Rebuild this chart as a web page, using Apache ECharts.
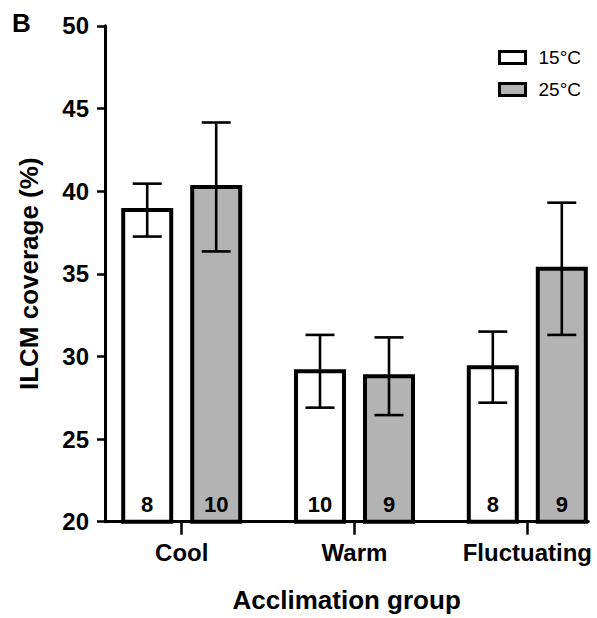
<!DOCTYPE html>
<html><head><meta charset="utf-8">
<script src="https://cdn.jsdelivr.net/npm/echarts@6/dist/echarts.min.js"></script>
<style>html,body{margin:0;padding:0;background:#fff}#c{width:597px;height:618px}</style>
</head><body><div id="c"></div>
<script>
const categories = ['Cool', 'Warm', 'Fluctuating'];
const seriesNames = ['15°C', '25°C'];
const mean15 = [38.85, 29.1, 29.35];
const err15 = [1.6, 2.2, 2.15];
const n15 = [8, 10, 8];
const mean25 = [40.25, 28.8, 35.3];
const err25 = [3.9, 2.35, 4.0];
const n25 = [10, 9, 9];
const yTicks = [20, 25, 30, 35, 40, 45, 50];

const FONT = "'Liberation Sans', Arial, Helvetica, sans-serif";
const fills = ['#ffffff', '#b3b3b3'];
const offsets = [-34.5, 34.5];

function makeRender(s) {
  return function (params, api) {
    const cat = api.value(0), m = api.value(1), e = api.value(2), n = api.value(3);
    const top = api.coord([cat, m]);
    const base = api.coord([cat, yTicks[0]]);
    const hi = api.coord([cat, m + e]);
    const lo = api.coord([cat, m - e]);
    const cx = top[0] + offsets[s];
    const w = 48;
    return {
      type: 'group',
      children: [
        { type: 'rect', shape: { x: cx - w / 2, y: top[1], width: w, height: base[1] - top[1] },
          style: { fill: fills[s], stroke: '#000', lineWidth: 4 } },
        { type: 'line', shape: { x1: cx, y1: hi[1], x2: cx, y2: lo[1] }, style: { stroke: '#000', lineWidth: 2.6 } },
        { type: 'line', shape: { x1: cx - 14.5, y1: hi[1], x2: cx + 14.5, y2: hi[1] }, style: { stroke: '#000', lineWidth: 2.6 } },
        { type: 'line', shape: { x1: cx - 14.5, y1: lo[1], x2: cx + 14.5, y2: lo[1] }, style: { stroke: '#000', lineWidth: 2.6 } },
        { type: 'text', style: { text: String(n), x: cx, y: base[1] - 17, align: 'center', verticalAlign: 'middle',
          font: 'bold 22px ' + FONT, fill: '#000' } }
      ]
    };
  };
}

const chart = echarts.init(document.getElementById('c'), null, { renderer: 'svg' });
chart.setOption({
  animation: false,
  backgroundColor: '#fff',
  grid: { left: 105, right: 8.7, top: 25.8, bottom: 96.3, containLabel: false },
  legend: {
    orient: 'vertical', left: 493, top: 43, icon: 'rect',
    itemWidth: 26, itemHeight: 12, itemGap: 13,
    textStyle: { fontFamily: FONT, fontSize: 19, color: '#000', padding: [0, 0, 0, 8] },
    data: [
      { name: seriesNames[0], itemStyle: { color: fills[0], borderColor: '#000', borderWidth: 3 } },
      { name: seriesNames[1], itemStyle: { color: fills[1], borderColor: '#000', borderWidth: 3 } }
    ]
  },
  xAxis: {
    type: 'value', min: -0.4439, max: 2.353,
    name: 'Acclimation group', nameLocation: 'middle', nameGap: 65,
    nameTextStyle: { fontFamily: FONT, fontWeight: 'bold', fontSize: 26, color: '#000' },
    splitLine: { show: false },
    axisLine: { show: true, onZero: false, lineStyle: { color: '#000', width: 3 } },
    axisTick: { show: true, customValues: [0, 1, 2], length: 13, lineStyle: { color: '#000', width: 2.5 } },
    axisLabel: { customValues: [0, 1, 2], margin: 19, fontFamily: FONT, fontWeight: 'bold', fontSize: 24, color: '#000',
      formatter: v => categories[Math.round(v)] }
  },
  yAxis: {
    type: 'value', min: 20, max: 50, interval: 5,
    name: 'ILCM coverage (%)', nameLocation: 'middle', nameGap: 63,
    nameTextStyle: { fontFamily: FONT, fontWeight: 'bold', fontSize: 26, color: '#000' },
    splitLine: { show: false },
    axisLine: { show: true, onZero: false, lineStyle: { color: '#000', width: 3 } },
    axisTick: { show: true, length: 8, lineStyle: { color: '#000', width: 2.5 } },
    axisLabel: { margin: 16, fontFamily: FONT, fontWeight: 'bold', fontSize: 24, color: '#000' }
  },
  graphic: [
    { type: 'text', left: 12, top: 10, style: { text: 'B', font: 'bold 26px ' + FONT, fill: '#000' } }
  ],
  series: [
    { type: 'custom', name: seriesNames[0], renderItem: makeRender(0),
      itemStyle: { color: fills[0], borderColor: '#000', borderWidth: 3 },
      data: categories.map((c, i) => [i, mean15[i], err15[i], n15[i]]) },
    { type: 'custom', name: seriesNames[1], renderItem: makeRender(1),
      itemStyle: { color: fills[1], borderColor: '#000', borderWidth: 3 },
      data: categories.map((c, i) => [i, mean25[i], err25[i], n25[i]]) }
  ]
});
</script></body></html>
